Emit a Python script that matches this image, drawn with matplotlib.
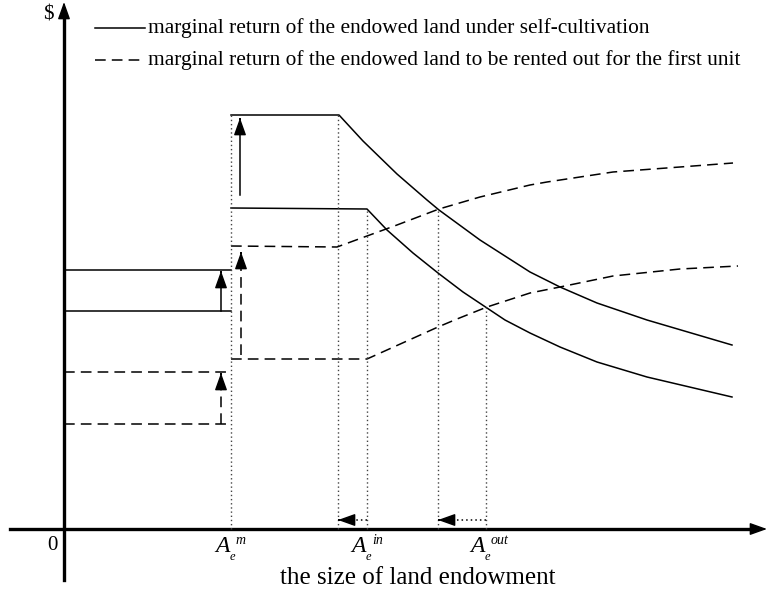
import matplotlib
matplotlib.use('Agg')
import matplotlib.pyplot as plt

# ─── Data (units: pixels from the origin of the sketch) ─────────
# left-hand flat levels (x from 0 to A_m)
left_solid = [259, 218]        # self-cultivation, before/after
left_dashed = [157, 105]       # rent-out, before/after

# key land sizes on the horizontal axis
A_m, A_in, A_out = 167, 303, 422
A_in_low, A_out_low = 274, 374   # shifted thresholds

# self-cultivation curves (solid)
solid_high_x = [167, 275, 299, 333, 363, 375, 416, 466, 496, 533, 583, 668]
solid_high_y = [414, 414, 388, 355, 329, 319, 289, 257, 242, 226, 209, 184]
solid_low_x = [167, 303, 323, 349, 374, 399, 423, 441, 466, 496, 533, 583, 668]
solid_low_y = [321, 320, 299, 276, 256, 237, 221, 209, 196, 182, 167, 152, 132]

# rent-out curves (dashed)
dash_high_x = [167, 273, 303, 333, 375, 416, 466, 483, 549, 616, 669]
dash_high_y = [283, 282, 293, 304, 320, 332, 344, 347, 357, 362, 366]
dash_low_x = [167, 303, 374, 393, 423, 466, 496, 549, 616, 674]
dash_low_y = [170, 170, 202, 210, 222, 236, 242, 253, 260, 263]

legend_labels = ['marginal return of the endowed land under self-cultivation',
                 'marginal return of the endowed land to be rented out for the first unit']
xlabel = 'the size of land endowment'

FONT = 'Liberation Serif'
DASH = (0, (7, 4))
DOT = (0, (1, 2))

fig = plt.figure(figsize=(7.67, 5.92), dpi=100)
ax = fig.add_axes([0, 0, 1, 1])
ax.set_xlim(-64, 703)
ax.set_ylim(-63, 529)
ax.axis('off')


def head(x, y, dx=0, dy=1):
    # arrow head pointing along (dx, dy), tip at (x, y)
    ax.annotate('', xy=(x, y), xytext=(x - dx, y - dy),
                arrowprops=dict(arrowstyle='-|>,head_length=0.7,head_width=0.25',
                                mutation_scale=15, color='black', lw=1,
                                shrinkA=0, shrinkB=0))


# axes with arrows
ax.plot([0, 0], [-51, 510], color='black', lw=2.4)
head(0, 527, 0, 18)
ax.plot([-54, 690], [0, 0], color='black', lw=2.4)
head(703, 0, 14, 0)
ax.text(-12, -17, '0', fontsize=15, family=FONT, ha='center', va='center')
ax.text(-16, 514, '$', fontsize=15, family=FONT, ha='center', va='center')

# left flat segments
for y in left_solid:
    ax.plot([0, A_m], [y, y], color='black', lw=1.1)
for y in left_dashed:
    ax.plot([0, A_m], [y, y], color='black', lw=1.1, ls=DASH)

# curves
ax.plot(solid_high_x, solid_high_y, color='black', lw=1.1)
ax.plot(solid_low_x, solid_low_y, color='black', lw=1.1)
ax.plot(dash_high_x, dash_high_y, color='black', lw=1.1, ls=DASH)
ax.plot(dash_low_x, dash_low_y, color='black', lw=1.1, ls=DASH)

# vertical shift arrows
ax.plot([157, 157], [left_solid[1], left_solid[0] - 12], color='black', lw=1.1)
head(157, left_solid[0] - 1)
ax.plot([157, 157], [left_dashed[1], left_dashed[0] - 12], color='black', lw=1.1, ls=DASH)
head(157, left_dashed[0] - 1)
ax.plot([176, 176], [334, 400], color='black', lw=1.1)
head(176, solid_high_y[0] - 3)
ax.plot([177, 177], [174, 266], color='black', lw=1.1, ls=DASH)
head(177, dash_high_y[0] - 6)

# dotted guides
ax.plot([A_m, A_m], [0, solid_high_y[0]], color='#444', lw=1, ls=DOT)
ax.plot([A_in_low, A_in_low], [0, solid_high_y[0]], color='#444', lw=1, ls=DOT)
ax.plot([A_in, A_in], [0, solid_low_y[1]], color='#444', lw=1, ls=DOT)
ax.plot([A_out_low, A_out_low], [0, 319], color='#444', lw=1, ls=DOT)
ax.plot([A_out, A_out], [0, 222], color='#444', lw=1, ls=DOT)

# dotted horizontal arrows
ax.plot([A_in, A_in_low + 10], [9, 9], color='black', lw=1.1, ls=DOT)
head(A_in_low, 9, -1, 0)
ax.plot([A_out, A_out_low + 10], [9, 9], color='black', lw=1.1, ls=DOT)
head(A_out_low, 9, -1, 0)

# tick labels A_e^m etc.
for xpos, sup in [(A_m, 'm'), (A_in, 'in'), (A_out, 'out')]:
    ax.text(xpos - 1, -17, 'A', fontsize=17, family=FONT, style='italic',
            ha='right', va='center')
    ax.text(xpos + 1, -28, 'e', fontsize=9, family=FONT, style='italic',
            ha='center', va='center')
    ax.text(xpos + 5, -11, sup, fontsize=10, family=FONT, style='italic',
            ha='left', va='center')

ax.text(354, -49, xlabel, fontsize=18, family=FONT, ha='center', va='center')

# legend
ax.plot([31, 81], [501, 501], color='black', lw=1.1)
ax.plot([31, 81], [469, 469], color='black', lw=1.1, ls=DASH)
ax.text(84, 501, legend_labels[0], fontsize=15.4, family=FONT, ha='left', va='center')
ax.text(84, 469, legend_labels[1], fontsize=15.4, family=FONT, ha='left', va='center')

fig.savefig('out.png', dpi=100)
